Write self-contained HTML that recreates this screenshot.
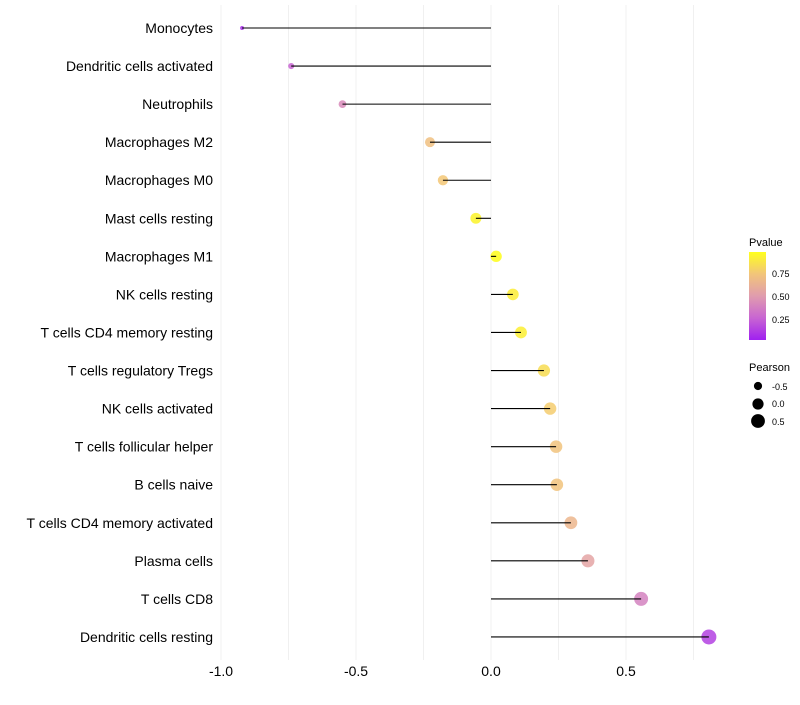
<!DOCTYPE html>
<html><head><meta charset="utf-8"><style>
body{margin:0;background:#fff;font-family:"Liberation Sans",sans-serif}
</style></head><body>
<svg id="chart" width="800" height="700" xmlns="http://www.w3.org/2000/svg" font-family="Liberation Sans, sans-serif">
<defs>
<linearGradient id="pg" x1="0" y1="1" x2="0" y2="0">
<stop offset="0" stop-color="#a020f0"/>
<stop offset="0.25" stop-color="#c865d2"/>
<stop offset="0.5" stop-color="#e09cae"/>
<stop offset="0.75" stop-color="#f2c57a"/>
<stop offset="1" stop-color="#ffff1e"/>
</linearGradient>
</defs>
<g id="grid"></g>
<g id="marks"></g>
<g id="labels"></g>
<g id="xt"></g>
<g>
<text x="749" y="246" font-size="11">Pvalue</text>
<rect x="749" y="252" width="17" height="88" fill="url(#pg)"/>
<text x="772" y="277" font-size="9">0.75</text>
<text x="772" y="300" font-size="9">0.50</text>
<text x="772" y="323" font-size="9">0.25</text>
</g>
<g>
<text x="749" y="371" font-size="11">Pearson</text>
<circle cx="758" cy="386" r="4.1" fill="#000"/>
<circle cx="758" cy="404" r="5.6" fill="#000"/>
<circle cx="758" cy="421" r="6.9" fill="#000"/>
<text x="772" y="390" font-size="9">-0.5</text>
<text x="772" y="407" font-size="9">0.0</text>
<text x="772" y="425" font-size="9">0.5</text>
</g>
</svg>
<script>
const categories=["Monocytes","Dendritic cells activated","Neutrophils","Macrophages M2","Macrophages M0","Mast cells resting","Macrophages M1","NK cells resting","T cells CD4 memory resting","T cells regulatory  Tregs","NK cells activated","T cells follicular helper","B cells naive","T cells CD4 memory activated","Plasma cells","T cells CD8","Dendritic cells resting"];
const pearson=[-0.922,-0.74,-0.55,-0.226,-0.178,-0.056,0.019,0.081,0.111,0.196,0.219,0.241,0.244,0.296,0.359,0.556,0.807];
const pvalue=[0.05,0.25,0.42,0.72,0.76,0.95,0.99,0.92,0.93,0.85,0.78,0.74,0.74,0.66,0.55,0.38,0.12];
const xTicks=[-1,-0.5,0,0.5];
const xTickLabels=["-1.0","-0.5","0.0","0.5"];
const minorTicks=[-0.75,-0.25,0.25,0.75];
const NS="http://www.w3.org/2000/svg";
const x=v=>491+v*270;
const y=i=>28+i*38.06;
const rad=v=>Math.sqrt(Math.max(2,31.8+30.2*v));
const stops=[[0,[160,32,240]],[0.25,[200,101,210]],[0.5,[224,156,174]],[0.75,[242,197,122]],[1,[255,255,20]]];
function col(p){for(let k=1;k<stops.length;k++){if(p<=stops[k][0]){const a=stops[k-1],b=stops[k],t=(p-a[0])/(b[0]-a[0]);return 'rgb('+a[1].map((c,j)=>Math.round(c+(b[1][j]-c)*t)).join(',')+')';}}return 'rgb(255,255,20)';}
function el(t,at,parent){const e=document.createElementNS(NS,t);for(const k in at)e.setAttribute(k,at[k]);document.getElementById(parent).appendChild(e);return e;}
xTicks.concat(minorTicks).forEach(v=>{const l=el('line',{x1:x(v),x2:x(v),y1:5,y2:660,stroke:'#f0f0f0','stroke-width':1},'grid');

});
xTicks.forEach((v,i)=>{const t=el('text',{x:x(v),y:676,'font-size':14,'text-anchor':'middle',fill:'#000'},'xt');t.textContent=xTickLabels[i];

});
categories.forEach((c,i)=>{
const t=el('text',{x:213,y:y(i)+5,'font-size':14,'text-anchor':'end',fill:'#000'},'labels');t.textContent=c;


const d=el('circle',{cx:x(pearson[i]),cy:y(i),r:rad(pearson[i]),fill:col(pvalue[i]),'fill-opacity':0.85},'marks');


const s=el('line',{x1:x(0),x2:x(pearson[i]),y1:y(i),y2:y(i),stroke:'#000','stroke-width':1.1},'marks');


});
</script>
</body></html>
